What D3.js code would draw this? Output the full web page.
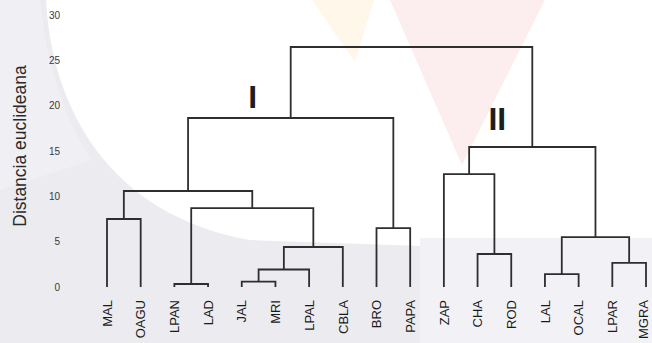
<!DOCTYPE html>
<html>
<head>
<meta charset="utf-8">
<script src="https://cdn.jsdelivr.net/npm/d3@7"></script>
<style>
  html, body { margin: 0; padding: 0; background: #ffffff; }
  svg { display: block; }
</style>
</head>
<body>
<svg id="chart" width="652" height="343"></svg>
<script>
// ---- Data ----
const leafLabels = ["MAL","OAGU","LPAN","LAD","JAL","MRI","LPAL","CBLA","BRO","PAPA",
                    "ZAP","CHA","ROD","LAL","OCAL","LPAR","MGRA"];
// Merge steps (hclust style): negative = leaf number (1-based), positive = earlier step
const mergeLeft  = [-1, -3, -5, 3, 4, 2, 1, -9, 7, -12, -11, -14, -16, 12, 11, 9];
const mergeRight = [-2, -4, -6, -7, -8, 5, 6, -10, 8, -13, 10, -15, -17, 13, 14, 15];
const mergeHeight = [7.5, 0.33, 0.6, 1.93, 4.41, 8.71, 10.59, 6.5, 18.64, 3.64, 12.46, 1.43, 2.65, 5.51, 15.44, 26.47];
const yTicks = [0, 5, 10, 15, 20, 25, 30];
const yTitle = "Distancia euclideana";
const clusterNames = ["I", "II"];
const clusterSteps = [9, 15]; // step whose link carries the group label

// ---- Scales ----
const W = 652, H = 343;
const svg = d3.select("#chart");
const x = d3.scalePoint().domain(leafLabels).range([107, 646]);
const y = d3.scaleLinear().domain([0, 30]).range([287, 15]);

// ---- Watermark-like background ----
const bg = svg.append("g");
bg.append("path")
  .attr("d", "M0,0 L46,0 C52,110 110,215 250,240 L420,246 L420,343 L0,343 Z")
  .attr("fill", "#ebebf0");
bg.append("path")
  .attr("d", "M0,0 L40,0 C46,60 64,120 92,160 L0,190 Z")
  .attr("fill", "#f0f0f4");
bg.append("rect").attr("x", 420).attr("y", 238).attr("width", 232).attr("height", 105)
  .attr("fill", "#f2f2f6");
bg.append("path")
  .attr("d", "M390,0 L545,0 L462,165 Z")
  .attr("fill", "#fcedef");
bg.append("path")
  .attr("d", "M312,0 L374,0 L355,62 Z")
  .attr("fill", "#fef7ea");

// ---- Build nodes from merges ----
const nodes = [];
function pos(ref) {
  if (ref < 0) { const name = leafLabels[-ref - 1]; return { x: x(name), h: 0 }; }
  return nodes[ref - 1];
}
mergeHeight.forEach((h, i) => {
  const l = pos(mergeLeft[i]), r = pos(mergeRight[i]);
  nodes.push({ x: (l.x + r.x) / 2, h: h, l: l, r: r });
});

// ---- Links ----
const g = svg.append("g");
g.selectAll("path.link")
  .data(nodes)
  .join("path")
  .attr("class", "link")
  .attr("fill", "none")
  .attr("stroke", "#2e2e2e")
  .attr("stroke-width", 1.8)
  .attr("stroke-linejoin", "miter")
  .attr("d", d => {
    const p = d3.path();
    p.moveTo(d.l.x, y(d.l.h));
    p.lineTo(d.l.x, y(d.h));
    p.lineTo(d.r.x, y(d.h));
    p.lineTo(d.r.x, y(d.r.h));
    return p.toString();
  });

// ---- Y tick labels (no axis line) ----
svg.append("g").selectAll("text")
  .data(yTicks)
  .join("text")
  .attr("x", 60)
  .attr("y", d => y(d))
  .attr("dy", "0.35em")
  .attr("text-anchor", "end")
  .attr("font-family", "Liberation Sans, Arial, sans-serif")
  .attr("font-size", 10)
  .attr("fill", "#3a3a3a")
  .text(d => d);

// ---- Y title ----
svg.append("text")
  .attr("transform", `translate(26,146) rotate(-90)`)
  .attr("text-anchor", "middle")
  .attr("font-family", "Liberation Sans, Arial, sans-serif")
  .attr("font-size", 17.5)
  .attr("fill", "#2a2a2a")
  .text(yTitle);

// ---- Leaf labels ----
svg.append("g").selectAll("text")
  .data(leafLabels)
  .join("text")
  .attr("transform", d => `translate(${Math.min(x(d), W - 9)},300) rotate(-90)`)
  .attr("dy", "0.36em")
  .attr("text-anchor", "end")
  .attr("font-family", "Liberation Sans, Arial, sans-serif")
  .attr("font-size", 13)
  .attr("fill", "#1a1a1a")
  .text(d => d);

// ---- Cluster labels ----
const clusterPos = [{ dx: -38, h: 21.0 }, { dx: -35, h: 18.6 }];
svg.append("g").selectAll("text")
  .data(clusterNames)
  .join("text")
  .attr("x", (d, i) => nodes[clusterSteps[i] - 1].x + clusterPos[i].dx)
  .attr("y", (d, i) => y(clusterPos[i].h))
  .attr("dy", "0.35em")
  .attr("text-anchor", "middle")
  .attr("font-family", "Liberation Sans, Arial, sans-serif")
  .attr("font-size", 32)
  .attr("font-weight", "bold")
  .attr("fill", "#1e1e1e")
  .text(d => d);
</script>
</body>
</html>
